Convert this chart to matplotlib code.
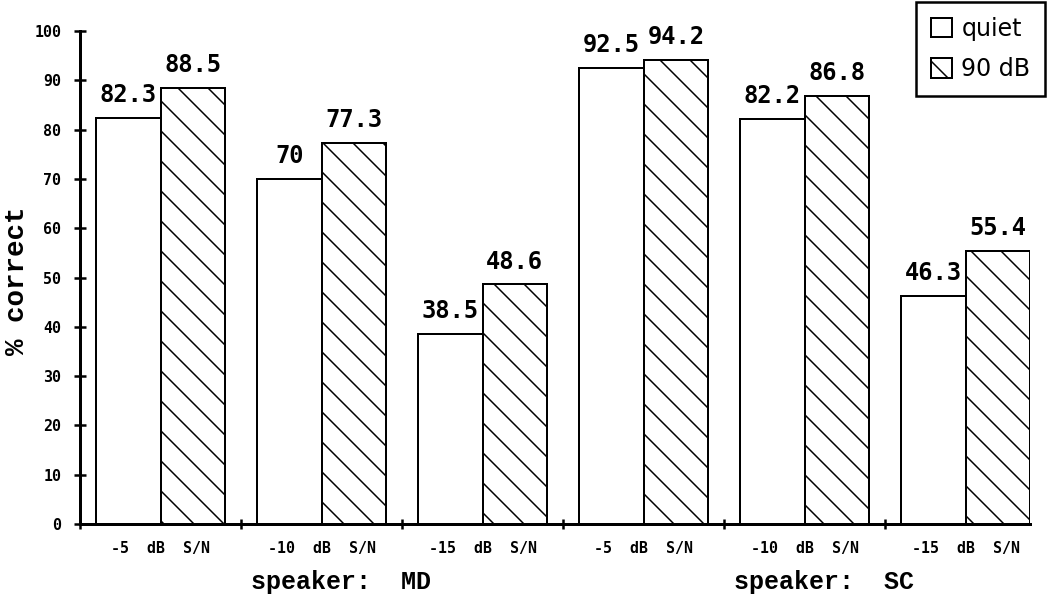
import numpy as np
import matplotlib
matplotlib.use('Agg')
import matplotlib.pyplot as plt

# data
group_labels = ['-5  dB  S/N', '-10  dB  S/N', '-15  dB  S/N',
                '-5  dB  S/N', '-10  dB  S/N', '-15  dB  S/N']
speakers = ['speaker:  MD', 'speaker:  SC']
quiet = [82.3, 70, 38.5, 92.5, 82.2, 46.3]
noise = [88.5, 77.3, 48.6, 94.2, 86.8, 55.4]
quiet_txt = ['82.3', '70', '38.5', '92.5', '82.2', '46.3']
noise_txt = ['88.5', '77.3', '48.6', '94.2', '86.8', '55.4']
yticks = [0, 10, 20, 30, 40, 50, 60, 70, 80, 90, 100]

DPI = 180
plt.rcParams['hatch.linewidth'] = 0.6
mono = 'DejaVu Sans Mono'
courier = 'Liberation Mono'

fig = plt.figure(figsize=(1050 / DPI, 603 / DPI), dpi=DPI)
ax = fig.add_axes([80 / 1050, 1 - 524 / 603, 950 / 1050, (524 - 31) / 603])

x = np.arange(len(quiet)) + 0.5
w = 0.4
b1 = ax.bar(x - w / 2, quiet, w, color='white', edgecolor='black',
            linewidth=0.8, label='quiet')
b2 = ax.bar(x + w / 2, noise, w, color='white', edgecolor='black',
            linewidth=0.8, hatch='\\\\', label='90 dB')

for i in range(len(quiet)):
    ax.text(x[i] - w / 2, quiet[i] + 2.2, quiet_txt[i], ha='center',
            va='bottom', fontsize=9.5, fontweight='bold', family=mono)
    ax.text(x[i] + w / 2, noise[i] + 2.2, noise_txt[i], ha='center',
            va='bottom', fontsize=9.5, fontweight='bold', family=mono)

ax.set_xlim(0, 5.9)
ax.set_ylim(0, 100)
ax.spines['top'].set_visible(False)
ax.spines['right'].set_visible(False)
ax.spines['left'].set_linewidth(1.2)
ax.spines['bottom'].set_linewidth(1.2)

ax.set_yticks(yticks)
ax.set_yticklabels([str(t) for t in yticks], fontsize=6,
                   fontweight='bold', family=mono)
ax.tick_params(axis='y', direction='inout', length=5, width=1.0, pad=5)

ax.set_xticks(np.arange(6))
ax.set_xticklabels([])
ax.tick_params(axis='x', which='major', direction='inout', length=4,
               width=1.0)
ax.set_xticks(x, minor=True)
ax.set_xticklabels(group_labels, minor=True, fontsize=6,
                   fontweight='bold', family=mono)
ax.tick_params(axis='x', which='minor', length=0, pad=7)

fig.text(17 / 1050, 1 - 281 / 603, '% correct', rotation=90, ha='center',
         va='center', fontsize=11, fontweight='bold', family=courier)

for k in range(len(speakers)):
    ax.text(1.62 + 3 * k, -0.118, speakers[k], transform=ax.get_xaxis_transform(),
            ha='center', va='center', fontsize=10, fontweight='bold',
            family=courier)

leg = fig.legend(handles=[b1, b2], loc='upper right',
                 bbox_to_anchor=(1047 / 1050, 1.0), borderaxespad=0.1,
                 fontsize=9.5, handlelength=0.9, handleheight=0.9,
                 handletextpad=0.4, borderpad=0.6, labelspacing=0.7,
                 fancybox=False, edgecolor='black', framealpha=1)
leg.get_frame().set_linewidth(1.0)

fig.savefig('out.png', dpi=DPI)
